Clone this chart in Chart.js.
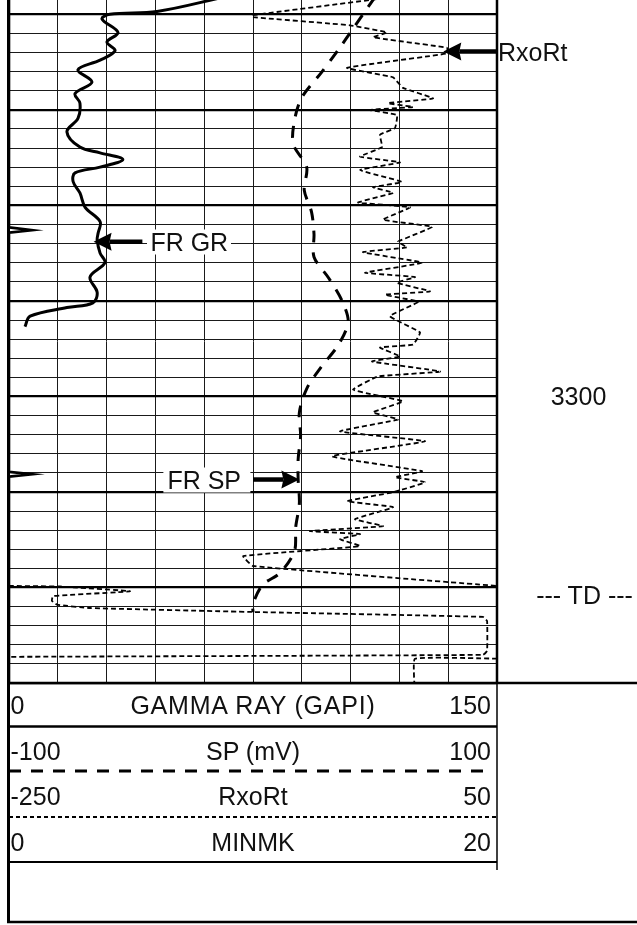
<!DOCTYPE html>
<html>
<head>
<meta charset="utf-8">
<script src="https://cdn.jsdelivr.net/npm/chart.js@4.4.1/dist/chart.umd.min.js"></script>
<style>
html,body{margin:0;padding:0;background:#fff;}
#wrap{position:relative;width:637px;height:925px;overflow:hidden;background:#fff;}
#c{position:absolute;left:0;top:0;width:637px;height:925px;}
.t{position:absolute;font-family:"Liberation Sans",Arial,sans-serif;font-size:25px;line-height:1;color:#111;white-space:nowrap;}
.box{background:#fff;}
</style>
</head>
<body>
<div id="wrap"><canvas id="c" width="637" height="925"></canvas></div>
<script>
// ---- curve header data ----
const curveNames = ['GAMMA RAY (GAPI)', 'SP (mV)', 'RxoRt', 'MINMK'];
const curveMins = [0, -100, -250, 0];
const curveMaxs = [150, 100, 50, 20];

// ---- depth axis ----
const depthTop = 3258.5;
const depthBottom = 3330;
const depthMarks = ['3300', '--- TD ---'];
const depthMarkDepths = [3300, 3320.8];

// ---- Gamma ray (GAPI) ----
const grDepth = [3258.2, 3259.7, 3260.0, 3260.5, 3261.9, 3262.9, 3263.8, 3264.8, 3265.8, 3267.1, 3268.3, 3269.3, 3270.9, 3272.3, 3273.9, 3274.5, 3275.2, 3276.0, 3276.6, 3277.5, 3278.7, 3280.2, 3281.7, 3282.9, 3283.6, 3285.0, 3286.0, 3287.5, 3289.1, 3290.2, 3290.7, 3291.6, 3292.7];
const grValue = [66, 45.5, 31.0, 28.6, 33.5, 30.1, 32.6, 28.0, 21.2, 25.5, 20.3, 21.8, 21.2, 17.8, 21.8, 28.0, 35.0, 28.0, 20.3, 19.7, 21.8, 23.4, 28.0, 27.4, 27.1, 28.0, 29.5, 24.9, 27.1, 25.8, 17.8, 6.5, 4.9];

// ---- SP (mV) ----
const spDepth = [3258.2, 3261.5, 3263.7, 3266.1, 3268.7, 3271.1, 3273.6, 3276.0, 3278.4, 3280.7, 3283.0, 3285.4, 3287.6, 3290.0, 3292.2, 3294.6, 3296.9, 3299.2, 3301.7, 3304.1, 3306.6, 3308.7, 3311.2, 3313.7, 3316.2, 3318.5, 3319.7, 3321.7, 3322.6];
const spValue = [50, 41, 35, 28, 20, 17, 16.5, 22, 21, 24, 25, 25, 31, 36.5, 39, 35, 28, 22, 19, 19.5, 18.5, 18.5, 19, 17.5, 17, 11, 4, 0, 0];

// ---- RxoRt (as drawn, with wrap-arounds; null = break) ----
const rxDepth = [3258.3, 3260.1, 3260.3, 3261.15, 3261.9, 3262.4, 3263.5, 3264.1, 3265.6, 3266.6, 3267.7, 3268.8, 3269.3, 3269.7, 3270.0, 3270.55, 3271.9, 3272.6, 3273.9, 3274.9, 3275.5, 3276.3, 3277.55, 3278.1, 3278.7, 3279.7, 3280.2, 3281.5, 3282.25, 3283.8, 3284.4, 3284.9, 3286.0, 3287.05, 3287.5, 3288.1, 3289.0, 3289.35, 3290.1, 3291.6, 3293.3, 3294.57, 3294.88, 3295.82, 3296.34, 3297.39, 3297.91, 3299.27, 3299.79, 3300.52, 3301.67, 3302.4, 3303.66, 3304.7, 3306.27, 3307.83, 3308.46, 3308.98, 3310.03, 3310.97, 3311.59, 3312.85, 3313.58, 3314.1, 3314.41, 3314.94, 3315.67, 3316.71, 3317.75, 3319.84,
  null, 3319.84, 3319.9, 3320.4, 3320.9, 3321.4, 3321.8, 3322.15, 3322.56, 3323.08, 3323.5, 3326.63, 3327.05, 3327.26,
  null, 3327.45, 3327.47, 3331];
const rxValue = [-19, -100.6, -100, -40.4, -17.6, -26.2, 19.3, 19.3, -42.2, -13.9, -7.8, 10.7, -17, -1.6, -28.1, -11.5, -12.7, -21.9, -20.7, -34.2, -9.6, -34.2, -8.4, -26.2, -13.9, -35.4, -3.5, -20.1, 10.1, -10.8, -5.3, -32.4, 3.9, -31.1, -0.4, -11.5, 8.8, -18.8, 1.5, -15.8, 2.7, -1.6, -21.9, -9.6, -26.8, 15, -23.1, -38.5, -26.8, -7.8, -26.2, -10.8, -46.5, 5.8, -51.4, 3.9, -12.7, 5.8, -13.9, -42.2, -13.9, -37.3, -20.1, -65, -34.2, -46.5, -34.2, -106, -100, 50,
  null, -250, -218.6, -175.6, -223, -223.6, -220.5, -200.2, -101.8, 41.4, 43.9, 43.9, 41.4, -250,
  null, 50, -0.5, -0.5];

// ---- MINMK ----
const mkDepth = [3258.3, 3282.3, 3282.6, 3282.85, 3307.9, 3308.15, 3308.4, 3331];
const mkValue = [0, 0, 0.95, 0, 0, 0.95, 0, 0];

// ---- arrow annotations ----
const noteLabels = ['RxoRt', 'FR GR', 'FR SP'];
const noteAxes = ['xrx', 'x', 'xsp'];
const noteTips = [17, 26, 19];
const noteTails = [50, 41, 0];
const noteDepths = [3263.9, 3283.8, 3308.7];

const pts = (vals, deps) => vals.map((v, i) => (v === null ? {x: null, y: null} : {x: v, y: deps[i]}));

const frame = {
  id: 'frame',
  afterDatasetsDraw(chart) {
    const {ctx, chartArea: a} = chart;
    const W = chart.width;
    const b = a.bottom;
    ctx.save();
    ctx.strokeStyle = '#000';
    ctx.fillStyle = '#000';
    const line = (x1, y1, x2, y2, w, dash) => {
      ctx.beginPath(); ctx.setLineDash(dash || []); ctx.lineWidth = w;
      ctx.moveTo(x1, y1); ctx.lineTo(x2, y2); ctx.stroke();
    };
    line(a.left - 0.5, 0, a.left - 0.5, b + 240, 3);
    line(a.right, 0, a.right, b, 2.5);
    line(a.left, b, W, b, 2.5);
    line(a.right, b, a.right, b + 187, 1.5);
    line(a.left, b + 43.5, a.right, b + 43.5, 2.5);
    line(a.left, b + 88, a.right - 4, b + 88, 3, [12, 10]);
    line(a.left, b + 134, a.right, b + 134, 2, [4, 3]);
    line(a.left, b + 179, a.right, b + 179, 2);
    line(a.left - 2, b + 239, W, b + 239, 2.5);
    // arrows
    ctx.setLineDash([]);
    noteLabels.forEach((lab, i) => {
      const sc = chart.scales[noteAxes[i]];
      const tip = sc.getPixelForValue(noteTips[i]);
      const tail = sc.getPixelForValue(noteTails[i]);
      const y = chart.scales.y.getPixelForValue(noteDepths[i]);
      const dir = Math.sign(tip - tail);
      const head = 16, half = 9;
      ctx.lineWidth = 4.5;
      ctx.beginPath(); ctx.moveTo(tail, y); ctx.lineTo(tip - dir * head, y); ctx.stroke();
      ctx.beginPath(); ctx.moveTo(tip, y); ctx.lineTo(tip - dir * (head + 2), y - half);
      ctx.lineTo(tip - dir * head, y); ctx.lineTo(tip - dir * (head + 2), y + half); ctx.closePath(); ctx.fill();
    });
    ctx.restore();
  }
};

const common = {showLine: true, pointRadius: 0, borderColor: '#000', backgroundColor: '#000', fill: false};

const chart = new Chart(document.getElementById('c'), {
  type: 'scatter',
  data: {
    datasets: [
      Object.assign({label: curveNames[0], data: pts(grValue, grDepth), xAxisID: 'x', borderWidth: 3, tension: 0.35}, common),
      Object.assign({label: curveNames[1], data: pts(spValue, spDepth), xAxisID: 'xsp', borderWidth: 3, borderDash: [12, 10], tension: 0.3}, common),
      Object.assign({label: curveNames[2], data: pts(rxValue, rxDepth), xAxisID: 'xrx', borderWidth: 1.8, borderDash: [5, 3], tension: 0.1}, common),
      Object.assign({label: curveNames[3], data: pts(mkValue, mkDepth), xAxisID: 'xmk', borderWidth: 2.6, tension: 0}, common)
    ]
  },
  options: {
    responsive: false,
    animation: false,
    layout: {padding: {left: 9, right: 140, top: 0, bottom: 242}},
    plugins: {legend: {display: false}, tooltip: {enabled: false}},
    elements: {point: {radius: 0}},
    scales: {
      x: {type: 'linear', position: 'top', min: curveMins[0], max: curveMaxs[0],
          ticks: {display: false, stepSize: 15}, grid: {drawTicks: false, color: '#1a1a1a', lineWidth: 1}, border: {display: false}},
      xsp: {type: 'linear', display: false, min: curveMins[1], max: curveMaxs[1]},
      xrx: {type: 'linear', display: false, min: curveMins[2], max: curveMaxs[2]},
      xmk: {type: 'linear', display: false, min: curveMins[3], max: curveMaxs[3]},
      y: {type: 'linear', reverse: true, min: depthTop, max: depthBottom,
          ticks: {display: false, stepSize: 2, includeBounds: false},
          grid: {drawTicks: false,
                 color: c => (c.tick && Math.round(c.tick.value) % 10 === 0 ? '#000' : '#1a1a1a'),
                 lineWidth: c => (c.tick && Math.round(c.tick.value) % 10 === 0 ? 2.2 : 1)},
          border: {display: false}}
    }
  },
  plugins: [frame]
});

// ---- text overlay (real text) ----
const wrap = document.getElementById('wrap');
function addText(txt, x, y, align, cls, style) {
  const d = document.createElement('div');
  d.className = 't' + (cls ? ' ' + cls : '');
  d.textContent = txt;
  d.style.left = x + 'px';
  d.style.top = y + 'px';
  const tx = align === 'l' ? '0' : (align === 'c' ? '-50%' : '-100%');
  d.style.transform = 'translate(' + tx + ',-50%)';
  if (style) Object.assign(d.style, style);
  wrap.appendChild(d);
}
const A = chart.chartArea;
const Y = chart.scales.y;
const rowOffsets = [22, 67.5, 113, 159];
curveNames.forEach((n, i) => {
  const yy = A.bottom + rowOffsets[i];
  addText(String(curveMins[i]), A.left + 1.5, yy, 'l');
  addText(String(curveMaxs[i]), A.right - 6, yy, 'r');
  addText(n, (A.left + A.right) / 2, yy, 'c', '', i === 0 ? {letterSpacing: '0.8px'} : null);
});
depthMarks.forEach((m, i) => {
  addText(m, i === 0 ? 578.5 : 584.5, Y.getPixelForValue(depthMarkDepths[i]), 'c');
});
noteLabels.forEach((lab, i) => {
  const sc = chart.scales[noteAxes[i]];
  const tail = sc.getPixelForValue(noteTails[i]);
  const tip = sc.getPixelForValue(noteTips[i]);
  const y = Y.getPixelForValue(noteDepths[i]);
  if (i === 0) {
    addText(lab, tail + 1, y, 'l');
  } else if (tip < tail) {
    addText(lab, tail + 5, y, 'l', 'box', {padding: '0 3px'});
  } else {
    addText(lab, tail - 3, y, 'r', 'box', {padding: '0 9px 0 4px'});
  }
});
</script>
</body>
</html>
